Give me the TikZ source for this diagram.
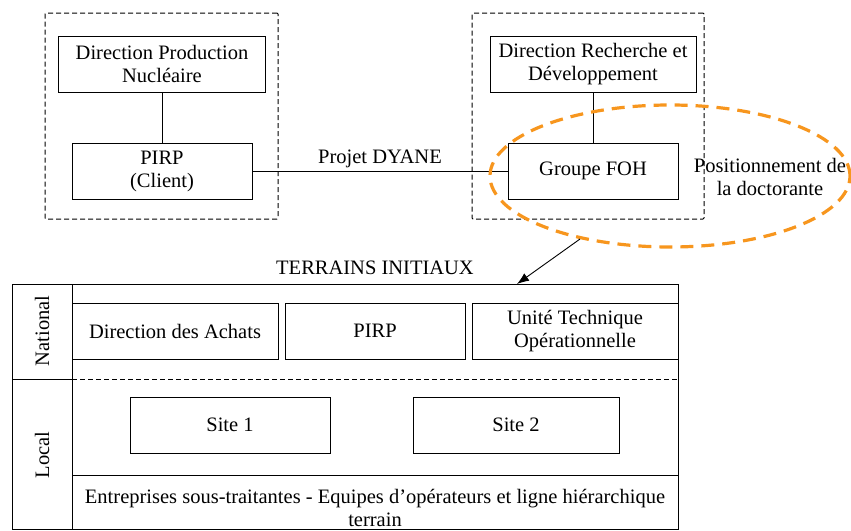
\documentclass[tikz,border=0pt]{standalone}
\usepackage{fontspec}
\setmainfont{Liberation Serif}[Ligatures=TeX]
\newfontfamily\timesfont{Liberation Serif}
\usepackage{tikz}
\usetikzlibrary{shapes.geometric, arrows.meta}
\definecolor{posorange}{RGB}{247,150,30}

\begin{document}
\begin{tikzpicture}[x=1pt, y=-1pt, line width=0.9pt,
        font=\timesfont\fontsize{20.5}{23}\selectfont,
        box/.style={draw, align=center, minimum height=56pt, inner sep=0pt},
        groupbox/.style={draw, line width=1pt, dash pattern=on 5pt off 3pt, rounded corners=1pt, inner sep=0pt}]
            \useasboundingbox (0,0) rectangle (851,530);
            % groupes EDF
            \node [groupbox, minimum width=233pt, minimum height=206pt] (grpdpn) at (161.5,116) {};
            \node [groupbox, minimum width=232pt, minimum height=206pt] (grprd) at (588,116) {};
            \node [box, minimum width=207pt] (dpn) at (162,64) {Direction Production\\Nucléaire};
            \node [box, minimum width=180pt] (pirpc) at (162,171) {PIRP\\(Client)};
            \node [box, minimum width=206pt] (drd) at (593,64) {Direction Recherche et\\Développement};
            \node [box, minimum width=170pt] (foh) at (593,171) {Groupe FOH};
            \draw (dpn) -- (pirpc);
            \draw (drd) -- (foh);
            \draw (pirpc) -- (foh) node [midway, above, yshift=-1pt] {Projet DYANE};
            % positionnement
            \node [ellipse, draw=posorange, line width=3.2pt, dash pattern=on 13pt off 8pt,
                   minimum width=360pt, minimum height=142pt, inner sep=0pt] (pos) at (670,176) {};
            \node [align=center, inner sep=0pt] (poslabel) at (770,177) {Positionnement de\\la doctorante};
            % terrains
            \node (terrlabel) at (375,268) {TERRAINS INITIAUX};
            \node [draw, minimum width=666pt, minimum height=245pt, inner sep=0pt] (terrains) at (345,406.5) {};
            \coordinate (tip) at (517,284);
            \draw [-{Latex[length=12pt, width=9pt]}] (pos.215) -- (tip);
            \draw (72,284) -- (72,529.5);
            \draw (12,379) -- (72,379);
            \draw [dash pattern=on 5pt off 3pt] (72,379) -- (678,379);
            \draw (72,475) -- (678,475);
            \node [rotate=90] (national) at (42,331) {National};
            \node [rotate=90] (local) at (42,455) {Local};
            \node [box, minimum width=206pt] (achats) at (175,331) {Direction des Achats};
            \node [box, minimum width=180pt] (pirpn) at (375,331) {PIRP};
            \node [box, minimum width=206pt] (uto) at (575,331) {Unité Technique\\Opérationnelle};
            \node [box, minimum width=200pt] (site1) at (230,425) {Site 1};
            \node [box, minimum width=206pt] (site2) at (516,425) {Site 2};
            \node [align=center, inner sep=0pt] (soustrait) at (375,508) {Entreprises sous-traitantes - Equipes d’opérateurs et ligne hiérarchique\\terrain};
        \end{tikzpicture}
\end{document}
